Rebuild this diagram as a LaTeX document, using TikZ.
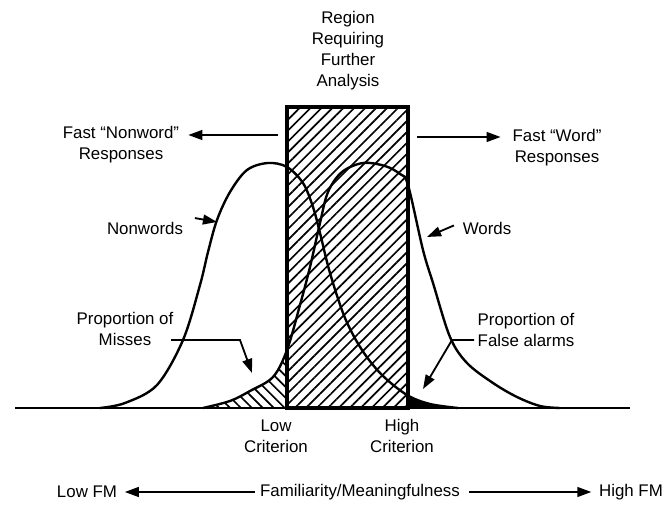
\documentclass[tikz,border=0pt]{standalone}
\usepackage{fontspec}
\setmainfont{Liberation Sans}
\usetikzlibrary{arrows.meta, patterns.meta}

% the two distributions, in picture units
\newcommand{\nonwordcurve}{plot[smooth, tension=0.55] coordinates {(100,408) (125,403) (157,385) (183,340) (200,285) (208,252) (217,220) (230,192) (247,170) (268,163) (287,167) (303,183) (313,207) (320,233) (330,273) (345,318) (362,350) (382,375) (407,395) (430,404) (458,408)}}
\newcommand{\wordcurve}{plot[smooth, tension=0.55] coordinates {(203,408) (230,401) (250,391) (273,377) (287,350) (300,305) (310,267) (320,223) (328,192) (342,172) (363,163) (385,166) (400,174) (408,185) (423,250) (433,283) (450,337) (467,363) (493,383) (517,397) (540,406) (560,408)}}

\begin{document}
\begin{tikzpicture}[x=0.025cm, y=-0.025cm,
            % Text labels
            lbl/.style={font=\fontsize{12}{15}\selectfont, align=center},
            % Hatched region box
            hatchbox/.style={draw, line width=2.2pt, minimum width=3.025cm, minimum height=7.525cm,
                    inner sep=0pt, pattern={Lines[angle=45, distance=5.5pt, line width=1.2pt]}},
            % Arrows
            arr/.style={-{Triangle[length=10pt, width=7pt]}, line width=1.3pt},
            % Curves and axis
            curve/.style={line width=1.7pt},
            axis/.style={line width=1.7pt}
        ]
        \useasboundingbox (0,0) rectangle (666,517);

        % Region requiring further analysis
        \node[hatchbox] (box) at (347.5,257.5) {};
        \node[lbl] (region) at (348,51) {Region\\Requiring\\Further\\Analysis};

        % Misses (hatched) and false alarms (black)
        \begin{scope}
            \clip (0,0) rectangle (287,408);
            \fill[pattern={Lines[angle=-45, distance=5.5pt, line width=1.2pt]}] \wordcurve -- cycle;
        \end{scope}
        \begin{scope}
            \clip (408,0) rectangle (666,408);
            \fill \nonwordcurve -- cycle;
        \end{scope}

        % Distributions
        \draw[curve] \nonwordcurve;
        \draw[curve] \wordcurve;
        \draw[axis] (15,408) -- (630,408);

        % Fast responses
        \node[lbl] (fastnw) at (121,145) {Fast ``Nonword''\\Responses};
        \node[lbl] (fastw) at (557,148) {Fast ``Word''\\Responses};
        \coordinate (nwlevel) at (0,135);
        \coordinate (wlevel) at (0,137);
        \draw[arr, shorten <=6pt, shorten >=3pt] (box.west |- nwlevel) -- (fastnw.east |- nwlevel);
        \draw[arr, shorten <=6pt, shorten >=5pt] (box.east |- wlevel) -- (fastw.west |- wlevel);

        % Curve labels
        \node[lbl] (nonwords) at (145,228) {Nonwords};
        \node[lbl] (words) at (487,228) {Words};
        \coordinate (nwtip) at (217,222);
        \coordinate (wtip) at (427,237);
        \draw[arr, shorten <=5pt] (nonwords.north east) -- (nwtip);
        \draw[arr, shorten <=3pt] ([yshift=3pt]words.west) -- (wtip);

        % Proportions
        \node[lbl] (misses) at (125,329) {Proportion of\\Misses};
        \node[lbl] (falarms) at (526,330) {Proportion of\\False alarms};
        \coordinate (mbend) at (240,340);
        \coordinate (mtip) at (252,373);
        \coordinate (fbend) at (452,340);
        \coordinate (ftip) at (423,389);
        \draw[arr, shorten <=-5pt] (mbend -| misses.east) -- (mbend) -- (mtip);
        \draw[arr, shorten <=-1pt] (fbend -| falarms.west) -- (fbend) -- (ftip);

        % Criteria
        \node[lbl] (lowc) at (276,436) {Low\\Criterion};
        \node[lbl] (highc) at (402,436) {High\\Criterion};

        % Familiarity axis
        \node[lbl] (fam) at (360,492) {Familiarity/Meaningfulness};
        \node[lbl] (lowfm) at (87,492) {Low FM};
        \node[lbl] (highfm) at (631,492) {High FM};
        \draw[arr, shorten >=2pt] (fam.west) -- (lowfm.east);
        \draw[arr, shorten <=3pt, shorten >=2pt] (fam.east) -- (highfm.west);

    \end{tikzpicture}
\end{document}
